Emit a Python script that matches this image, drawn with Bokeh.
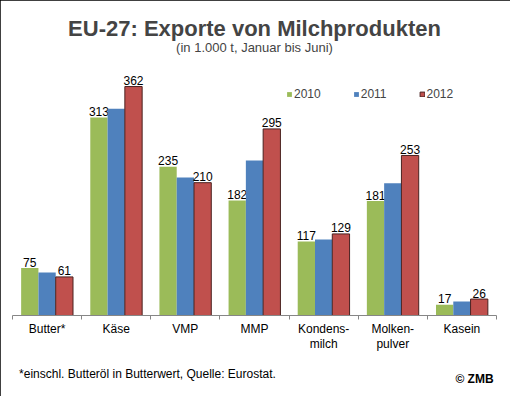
from bokeh.plotting import figure
from bokeh.models import (ColumnDataSource, FixedTicker, Legend, LegendItem, Range1d, Title, LinearAxis)
from bokeh.embed import file_html
from bokeh.resources import INLINE
from bokeh.core.properties import value

categories = ["Butter*", "Käse", "VMP", "MMP", "Kondens-\nmilch", "Molken-\npulver", "Kasein"]
years = ["2010", "2011", "2012"]
v2010 = [75, 313, 235, 182, 117, 181, 17]
v2011 = [68, 327, 218, 245, 120, 209, 22]
v2012 = [61, 362, 210, 295, 129, 253, 26]
colors = ["#9BBB59", "#4F81BD", "#C0504D"]
title = "EU-27: Exporte von Milchprodukten"
subtitle = "(in 1.000 t, Januar bis Juni)"
footnote = "*einschl. Butteröl in Butterwert, Quelle: Eurostat."
credit = "© ZMB"

FONT = "Liberation Sans"
n = len(categories)

p = figure(width=510, height=396, output_backend="svg", toolbar_location=None,
           x_range=Range1d(0, n), y_range=Range1d(0, 400),
           min_border_left=12, min_border_right=14, min_border_top=62, min_border_bottom=81)
p.background_fill_color = "white"
p.border_fill_color = "white"
p.outline_line_color = None
p.grid.grid_line_color = None
p.yaxis.visible = False
p.styles = {"outline": "2px solid black", "outline-offset": "-2px"}

centers = [i + 0.5 for i in range(n)]
offsets = [-0.25, 0.0, 0.25]
series = [v2010, v2011, v2012]
items = []
for k, (vals, col, off) in enumerate(zip(series, colors, offsets)):
    src = ColumnDataSource(dict(x=[c + off for c in centers], top=vals,
                                lab=[str(v) for v in vals]))
    r = p.vbar(x="x", top="top", width=0.25, source=src, fill_color=col,
               line_color="#4a2220" if k == 2 else None, line_width=1)
    items.append(LegendItem(label=years[k], renderers=[r]))
    if k != 1:
        p.text(x="x", y="top", text="lab", source=src, y_offset=-6,
               text_align="center", text_baseline="alphabetic",
               text_font=value(FONT), text_font_size="12px", text_color="black")

ax = p.xaxis[0]
ax.ticker = FixedTicker(ticks=centers, minor_ticks=list(range(n + 1)))
ax.major_label_overrides = {c: lab for c, lab in zip(centers, categories)}
ax.major_tick_line_color = None
ax.minor_tick_line_color = "#868686"
ax.minor_tick_out = 4
ax.minor_tick_in = 0
ax.axis_line_color = "#868686"
ax.major_label_text_font = FONT
ax.major_label_text_font_size = "12px"
ax.major_label_text_line_height = 1.1
ax.major_label_text_color = "black"
ax.major_label_standoff = 0

legend = Legend(items=items, orientation="horizontal", location=(274, 214),
                glyph_width=6, glyph_height=6, label_standoff=2, spacing=32,
                label_height=14, label_width=20,
                padding=0, margin=0, border_line_color=None, background_fill_alpha=0,
                label_text_font=FONT, label_text_font_size="12px")
p.add_layout(legend)

p.add_layout(Title(text=subtitle, align="center", text_font=FONT, text_font_size="13px",
                   text_font_style="normal", standoff=15), "above")
p.add_layout(Title(text=title, align="center", text_font=FONT, text_font_size="22px",
                   text_font_style="bold", standoff=-20), "above")


def text_axis(x, text, standoff, style):
    return LinearAxis(ticker=FixedTicker(ticks=[x], minor_ticks=[]),
                      major_label_overrides={x: text},
                      axis_line_color=None, major_tick_line_color=None,
                      minor_tick_line_color=None,
                      major_tick_out=0, major_tick_in=0, minor_tick_out=0, minor_tick_in=0,
                      major_label_standoff=standoff, major_label_text_font=FONT,
                      major_label_text_font_size="12px", major_label_text_font_style=style,
                      major_label_text_color="black")


foot_x = (147 - 12) / 484 * n
credit_x = (474 - 12) / 484 * n
p.add_layout(text_axis(foot_x, footnote, 13, "normal"), "below")
p.add_layout(text_axis(credit_x, credit, -12, "bold"), "below")

open("out.html", "w").write(file_html(p, INLINE))
